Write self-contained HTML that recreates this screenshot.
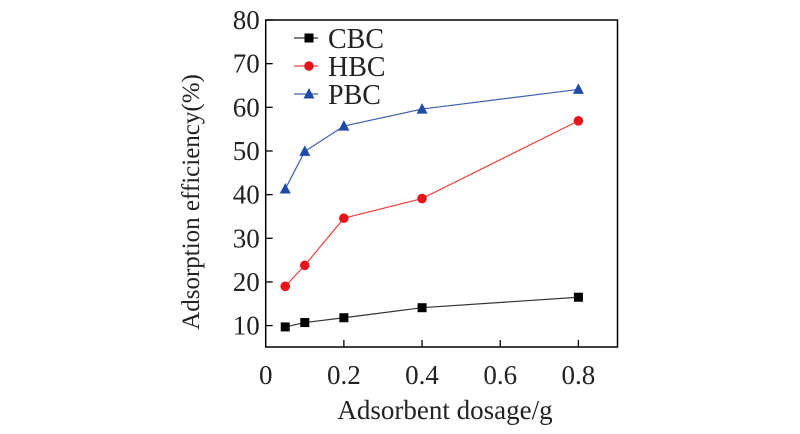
<!DOCTYPE html>
<html><head><meta charset="utf-8"><style>
body{margin:0;background:#fff;}
svg{display:block;font-family:"Liberation Serif",serif;}
</style></head><body>
<svg id="chart" width="800" height="434" viewBox="0 0 800 434" xmlns="http://www.w3.org/2000/svg">
<g id="plot"></g>
</svg>
<script>
const xValues=[0.05,0.1,0.2,0.4,0.8];
const cbcValues=[9.7,10.7,11.8,14.1,16.5];
const hbcValues=[19.0,23.8,34.6,39.1,56.9];
const pbcValues=[41.3,49.9,55.7,59.6,64.1];
const xTicks=[0,0.2,0.4,0.6,0.8];
const xTickLabels=["0","0.2","0.4","0.6","0.8"];
const yTicks=[10,20,30,40,50,60,70,80];
const seriesNames=["CBC","HBC","PBC"];

const L=265.7,R=617.5,T=20,B=347;
const xMin=0,xMax=0.9,yMin=5.1,yMax=80;
const sx=v=>L+(v-xMin)/(xMax-xMin)*(R-L);
const sy=v=>B-(v-yMin)/(yMax-yMin)*(B-T);
const NS="http://www.w3.org/2000/svg";
const g=document.getElementById('plot');
function mk(tag,attrs,parent){const e=document.createElementNS(NS,tag);for(const k in attrs)e.setAttribute(k,attrs[k]);(parent||g).appendChild(e);return e;}

const frame=mk('rect',{x:L,y:T,width:R-L,height:B-T,fill:'none',stroke:'#000','stroke-width':1.5});



xTicks.forEach((v,i)=>{
  if(v>0){const t=mk('line',{x1:sx(v),x2:sx(v),y1:B,y2:B-7,stroke:'#000','stroke-width':1.3});
  
  }
  const lb=mk('text',{x:sx(v),y:B+37,'text-anchor':'middle','font-size':27,fill:'#222'});
  lb.textContent=xTickLabels[i];
  
  
});
yTicks.forEach(v=>{
  const t=mk('line',{x1:L,x2:L+7,y1:sy(v),y2:sy(v),stroke:'#000','stroke-width':1.3});
  
  
  const lb=mk('text',{x:L-6,y:sy(v)+9,'text-anchor':'end','font-size':27,fill:'#222'});
  lb.textContent=v;
  
  
});

const xt=mk('text',{x:445,y:419,'text-anchor':'middle','font-size':27,fill:'#222'});
xt.textContent='Adsorbent dosage/g';


const yt=mk('text',{x:0,y:0,'text-anchor':'middle','font-size':25,fill:'#222',transform:`translate(199,202) rotate(-90)`});
yt.textContent='Adsorption efficiency(%)';



const colors=['#333333','#f04040','#4060b0'];
const markColors=['#000','#e8141c','#1f4aa8'];
const allVals=[cbcValues,hbcValues,pbcValues];
function marker(type,cx,cy,color,parent){
  if(type===0)return mk('rect',{x:cx-4.5,y:cy-4.5,width:9,height:9,fill:color},parent);
  if(type===1)return mk('circle',{cx:cx,cy:cy,r:4.8,fill:color},parent);
  return mk('polygon',{points:`${cx},${cy-6} ${cx-5.5},${cy+4.5} ${cx+5.5},${cy+4.5}`,fill:color},parent);
}
allVals.forEach((vals,s)=>{
  const sg=mk('g',{});
  
  
  const pts=vals.map((v,i)=>sx(xValues[i])+','+sy(v)).join(' ');
  const pl=mk('polyline',{points:pts,fill:'none',stroke:colors[s],'stroke-width':1.2},sg);
  
  
  vals.forEach((v,i)=>{
    const m=marker(s,sx(xValues[i]),sy(v),markColors[s],sg);
    
    
  });
  const ly=38+s*28;
  const lg=mk('g',{},sg);
  
  
  mk('line',{x1:294,x2:318,y1:ly,y2:ly,stroke:colors[s],'stroke-width':1.2},lg);
  marker(s,309,ly,markColors[s],lg);
  const lt=mk('text',{x:328,y:ly+10,'font-size':28,fill:'#222'},lg);
  lt.textContent=seriesNames[s];
});
</script>
</body></html>
